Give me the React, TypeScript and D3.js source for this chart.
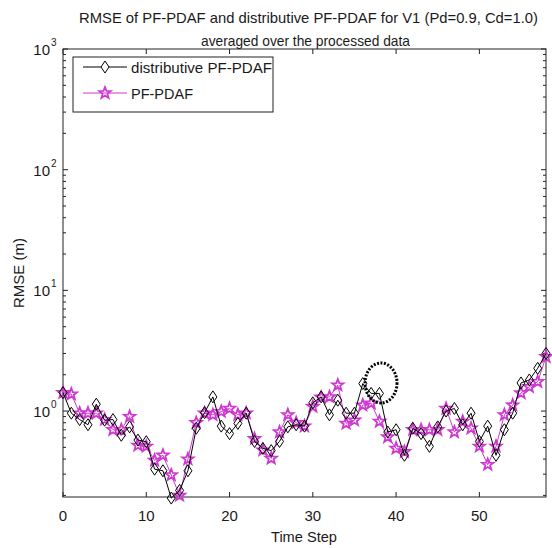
import React from "react";
import * as d3 from "d3";

const timeSteps: number[] = Array.from({ length: 59 }, (_, i) => i);

const distributive: number[] = [
  1.42, 0.96, 0.85, 0.77, 1.14, 0.84, 0.85, 0.63, 0.74, 0.575,
  0.557, 0.33, 0.32, 0.19, 0.22, 0.32, 0.72, 0.97, 1.31, 0.75,
  0.65, 0.79, 0.96, 0.56, 0.49, 0.47, 0.56, 0.74, 0.77, 0.75,
  1.17, 1.31, 0.93, 1.23, 0.96, 0.96, 1.69, 1.4, 1.4, 0.67,
  0.7, 0.43, 0.72, 0.65, 0.51, 0.74, 1.0, 1.05, 0.77, 0.96,
  0.56, 0.75, 0.43, 0.7, 0.96, 1.71, 1.81, 2.26, 3.0,
];

const pfpdaf: number[] = [
  1.42, 1.38, 0.96, 0.96, 0.96, 0.85, 0.7, 0.7, 0.9, 0.52,
  0.51, 0.39, 0.43, 0.295, 0.2, 0.4, 0.8, 0.96, 0.93, 0.99,
  1.05, 0.93, 0.96, 0.59, 0.475, 0.405, 0.67, 0.93, 0.8, 0.75,
  1.09, 1.3, 1.31, 1.64, 0.79, 0.84, 1.12, 1.16, 0.82, 0.61,
  0.49, 0.46, 0.7, 0.7, 0.7, 0.7, 1.05, 0.67, 0.82, 0.72,
  0.51, 0.36, 0.51, 0.93, 1.12, 1.41, 1.59, 1.75, 2.82,
];

const xTicks: number[] = [0, 10, 20, 30, 40, 50];
const yDecades: number[] = [0, 1, 2, 3];
const titleLines: string[] = [
  "RMSE of PF-PDAF and distributive PF-PDAF for V1 (Pd=0.9, Cd=1.0)",
  "averaged over the processed data",
];
const seriesNames: string[] = ["distributive PF-PDAF", "PF-PDAF"];

const W = 552;
const H = 548;
const L = 63;
const R = 546;
const T = 49;
const B = 497;
const MAG = "#cf38cf";
const FONT = "'Liberation Sans', Arial, sans-serif";

const x = d3.scaleLinear().domain([0, 58]).range([L, R]);
const y = d3.scaleLog().domain([0.194, 1000]).range([B, T]);

const diamond = (cx: number, cy: number) =>
  `M${cx},${cy - 6}L${cx + 4},${cy}L${cx},${cy + 6}L${cx - 4},${cy}Z`;

const starPath = (cx: number, cy: number, r = 6) => {
  const ri = r * 0.42;
  const pts: string[] = [];
  for (let i = 0; i < 10; i++) {
    const a = -Math.PI / 2 + (i * Math.PI) / 5;
    const rr = i % 2 === 0 ? r : ri;
    pts.push(`${(cx + rr * Math.cos(a)).toFixed(2)},${(cy + rr * Math.sin(a)).toFixed(2)}`);
  }
  return "M" + pts.join("L") + "Z";
};

export default function App() {
  const lineGen = d3
    .line<number>()
    .x((_, i) => x(timeSteps[i]))
    .y((d) => y(d));

  const minorTicks: number[] = [];
  for (let e = -1; e < 3; e++) {
    for (let m = 2; m <= 9; m++) {
      const v = m * Math.pow(10, e);
      if (v >= 0.194 && v <= 1000) minorTicks.push(v);
    }
  }

  const axisColor = "#222";
  const txt = "#1a1a1a";

  return (
    <svg
      width={W}
      height={H}
      style={{ position: "absolute", left: 0, top: 0, background: "#fff" }}
      fontFamily={FONT}
    >
      <rect x={0} y={0} width={W} height={H} fill="#fff" />
      {/* title */}
      <text x={79} y={23} fontSize={15} fill={txt} textLength={459} lengthAdjust="spacingAndGlyphs">
        {titleLines[0]}
      </text>
      <text x={201} y={46} fontSize={15} fill={txt} textLength={209} lengthAdjust="spacingAndGlyphs">
        {titleLines[1]}
      </text>

      {/* axes box */}
      <rect x={L} y={T} width={R - L} height={B - T} fill="none" stroke={axisColor} strokeWidth={1} />

      {/* x ticks */}
      {xTicks.map((t) => (
        <g key={"xt" + t}>
          <line x1={x(t)} x2={x(t)} y1={B} y2={B - 5} stroke={axisColor} />
          <line x1={x(t)} x2={x(t)} y1={T} y2={T + 5} stroke={axisColor} />
          <text x={x(t)} y={521} fontSize={15} textAnchor="middle" fill={txt}>
            {t}
          </text>
        </g>
      ))}
      <text x={304} y={542} fontSize={15} textAnchor="middle" fill={txt} textLength={66} lengthAdjust="spacingAndGlyphs">
        Time Step
      </text>

      {/* y ticks */}
      {yDecades.map((e) => {
        const yy = y(Math.pow(10, e));
        return (
          <g key={"yd" + e}>
            <line x1={L} x2={L + 5} y1={yy} y2={yy} stroke={axisColor} />
            <line x1={R} x2={R - 5} y1={yy} y2={yy} stroke={axisColor} />
            <text x={50} y={yy + 6} fontSize={15} textAnchor="end" fill={txt}>
              10
            </text>
            <text x={51} y={yy - 3} fontSize={10} textAnchor="start" fill={txt}>
              {e}
            </text>
          </g>
        );
      })}
      {minorTicks.map((v, i) => (
        <g key={"ym" + i}>
          <line x1={L} x2={L + 3} y1={y(v)} y2={y(v)} stroke={axisColor} />
          <line x1={R} x2={R - 3} y1={y(v)} y2={y(v)} stroke={axisColor} />
        </g>
      ))}
      <text
        transform={`translate(24,${(T + B) / 2}) rotate(-90)`}
        fontSize={15}
        textAnchor="middle"
        fill={txt}
        textLength={70}
        lengthAdjust="spacingAndGlyphs"
      >
        RMSE (m)
      </text>

      {/* series */}
      <path d={lineGen(pfpdaf) || ""} fill="none" stroke={MAG} strokeWidth={1} />
      {pfpdaf.map((v, i) => (
        <path key={"s" + i} d={starPath(x(timeSteps[i]), y(v))} fill="none" stroke={MAG} strokeWidth={1.8} />
      ))}
      <path d={lineGen(distributive) || ""} fill="none" stroke="#000" strokeWidth={1} />
      {distributive.map((v, i) => (
        <path key={"d" + i} d={diamond(x(timeSteps[i]), y(v))} fill="none" stroke="#000" strokeWidth={1} />
      ))}

      {/* dotted ellipse annotation */}
      <ellipse cx={381} cy={383} rx={16} ry={20} fill="none" stroke="#000" strokeWidth={3} strokeDasharray="2,1.5" />

      {/* legend */}
      <rect x={73} y={57} width={200} height={55} fill="#fff" stroke={axisColor} strokeWidth={1} />
      <line x1={83} x2={127} y1={67} y2={67} stroke="#000" />
      <path d={diamond(105, 67)} fill="#fff" stroke="#000" />
      <text x={131} y={73} fontSize={15} fill={txt} textLength={141} lengthAdjust="spacingAndGlyphs">
        {seriesNames[0]}
      </text>
      <line x1={83} x2={127} y1={93} y2={93} stroke={MAG} />
      <path d={starPath(105, 93)} fill="none" stroke={MAG} strokeWidth={1.8} />
      <text x={131} y={99} fontSize={15} fill={txt} textLength={62} lengthAdjust="spacingAndGlyphs">
        {seriesNames[1]}
      </text>
    </svg>
  );
}
